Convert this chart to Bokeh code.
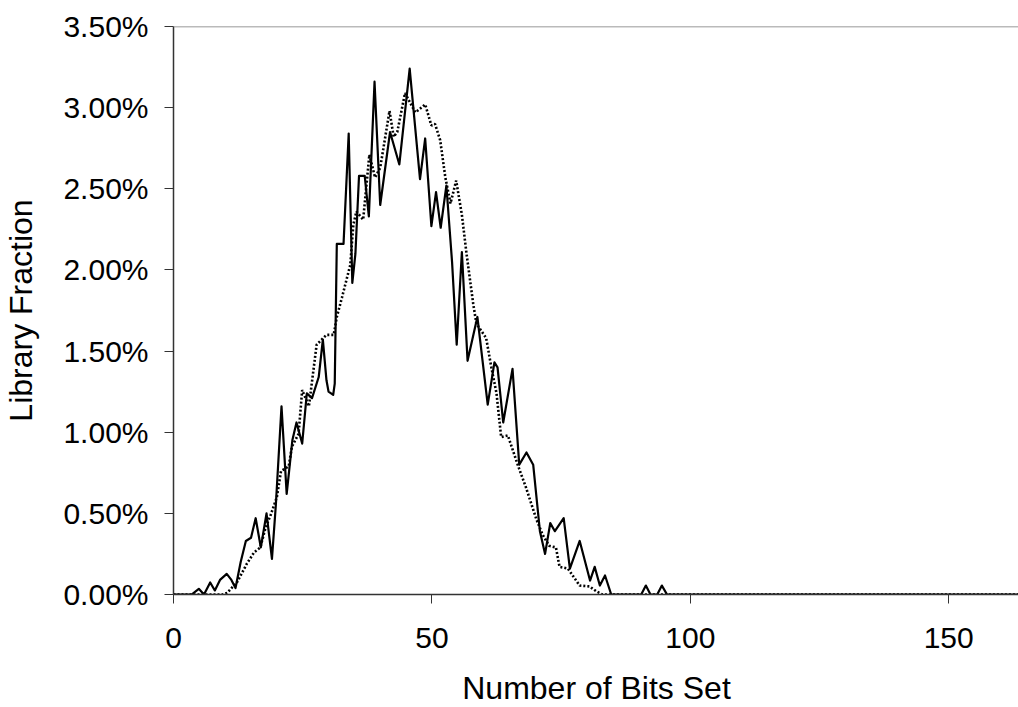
from bokeh.plotting import figure
from bokeh.models import Range1d, FixedTicker, PrintfTickFormatter, Span
from bokeh.embed import file_html
from bokeh.resources import INLINE

# ---- data ----
solid_x = [0, 3.5, 4.9, 5.9, 7.1, 8.0, 9.0, 10.3, 11.2, 12.0, 13.0, 14.0, 15.0, 15.9, 16.9,
           18.0, 19.05, 19.8, 20.9, 21.9, 23.0, 23.8, 24.9, 25.8, 26.8, 28.1, 28.9, 29.6,
           30.0, 30.9, 31.2, 31.6, 32.9, 33.9, 34.6, 35.2, 35.9, 37.0, 37.8, 38.9, 40.0,
           41.9, 43.7, 45.7, 47.7, 48.7, 49.9, 50.8, 51.7, 52.8, 53.9, 54.8, 55.8, 56.9,
           58.8, 60.8, 62.1, 62.7, 63.8, 65.6, 66.9, 68.3, 69.6, 70.9, 71.9, 72.9, 73.8,
           75.5, 76.7, 78.6, 80.6, 81.5, 82.5, 83.5, 84.7, 90.5, 91.4, 92.3, 93.6, 94.5,
           95.5, 163.7]
solid_y = [0, 0, 0.035, 0.0, 0.074, 0.025, 0.09, 0.127, 0.09, 0.04, 0.2, 0.33, 0.35, 0.47, 0.29,
           0.50, 0.22, 0.55, 1.16, 0.62, 0.95, 1.06, 0.93, 1.24, 1.21, 1.34, 1.57, 1.32,
           1.25, 1.23, 1.30, 2.16, 2.16, 2.84, 1.92, 2.10, 2.58, 2.58, 2.33, 3.16, 2.40,
           2.85, 2.65, 3.24, 2.56, 2.81, 2.27, 2.48, 2.26, 2.52, 2.05, 1.54, 2.11, 1.44,
           1.71, 1.17, 1.43, 1.40, 1.06, 1.39, 0.80, 0.875, 0.80, 0.39, 0.25, 0.44, 0.39,
           0.47, 0.16, 0.33, 0.086, 0.17, 0.055, 0.117, 0.0, 0.0, 0.055, 0, 0, 0.055,
           0, 0]

dot_x = [0, 9.5, 10.4, 12.3, 14.2, 15.6, 16.8, 17.8, 18.8, 20.0, 20.8, 22.3, 22.9, 24.2, 24.9,
         26.2, 27.7, 29.6, 31.0, 31.6, 32.6, 34.2, 34.8, 35.4, 36.7, 37.9, 39.0, 40.0, 41.8,
         42.6, 43.3, 44.8, 46.8, 48.7, 49.9, 50.6, 51.6, 52.6, 53.6, 54.7, 55.8, 56.7, 58.0,
         58.6, 60.5, 61.5, 62.5, 63.4, 64.7, 66.6, 68.2, 70.2, 71.4, 72.7, 74.0, 74.7, 76.3,
         78.6, 80.5, 81.8, 83.0, 163.7]
dot_y = [0, 0, 0.01, 0.076, 0.19, 0.26, 0.29, 0.41, 0.49, 0.60, 0.76, 0.79, 0.91, 0.99, 1.26,
         1.16, 1.54, 1.60, 1.60, 1.71, 1.83, 2.03, 2.28, 2.36, 2.31, 2.71, 2.57, 2.63, 2.98,
         2.82, 2.85, 3.09, 2.97, 3.02, 2.89, 2.90, 2.80, 2.57, 2.41, 2.55, 2.34, 2.10, 1.79,
         1.67, 1.58, 1.40, 1.24, 0.97, 0.98, 0.80, 0.66, 0.465, 0.37, 0.30, 0.29, 0.17, 0.16,
         0.055, 0.05, 0.02, 0, 0]

x_ticks = [0, 50, 100, 150]
y_ticks = [0, 0.5, 1.0, 1.5, 2.0, 2.5, 3.0, 3.5]
x_label = "Number of Bits Set"
y_label = "Library Fraction"

assert len(solid_x) == len(solid_y)
assert len(dot_x) == len(dot_y)

FONT = "Liberation Sans"

p = figure(
    width=1018, height=707,
    frame_width=846, frame_height=568,
    min_border_left=172, min_border_right=0, min_border_top=26, min_border_bottom=113,
    x_range=Range1d(0, 163.7), y_range=Range1d(0, 3.5),
    output_backend="svg", toolbar_location=None,
)
p.outline_line_color = None
p.grid.visible = False
p.background_fill_color = "white"
p.border_fill_color = "white"

p.line(solid_x, solid_y, line_color="black", line_width=2.2, line_join="round")
p.line(dot_x, dot_y, line_color="black", line_width=2.6, line_dash="2 2")

top = Span(location=3.5, dimension="width", line_color="#777777", line_width=1.5)
p.add_layout(top)

xa = p.xaxis[0]
xa.ticker = FixedTicker(ticks=x_ticks)
xa.axis_label = x_label
xa.axis_line_color = "#333333"
xa.axis_line_width = 1.5
xa.major_tick_out = 9
xa.major_tick_in = 0
xa.minor_tick_out = 0
xa.minor_tick_in = 0
xa.major_tick_line_color = "#333333"
xa.major_label_text_font = FONT
xa.major_label_text_font_size = "30px"
xa.major_label_text_color = "black"
xa.major_label_standoff = 24
xa.axis_label_text_font = FONT
xa.axis_label_text_font_size = "32px"
xa.axis_label_text_font_style = "normal"
xa.axis_label_text_color = "black"
xa.axis_label_standoff = 19

ya = p.yaxis[0]
ya.ticker = FixedTicker(ticks=y_ticks)
ya.formatter = PrintfTickFormatter(format="%.2f%%")
ya.axis_label = y_label
ya.axis_line_color = "#333333"
ya.axis_line_width = 1.5
ya.major_tick_out = 9
ya.major_tick_in = 0
ya.minor_tick_out = 0
ya.minor_tick_in = 0
ya.major_tick_line_color = "#333333"
ya.major_label_text_font = FONT
ya.major_label_text_font_size = "30px"
ya.major_label_text_color = "black"
ya.major_label_standoff = 16
ya.axis_label_text_font = FONT
ya.axis_label_text_font_size = "32px"
ya.axis_label_text_font_style = "normal"
ya.axis_label_text_color = "black"
ya.axis_label_standoff = 21

open("out.html", "w").write(file_html(p, INLINE))
